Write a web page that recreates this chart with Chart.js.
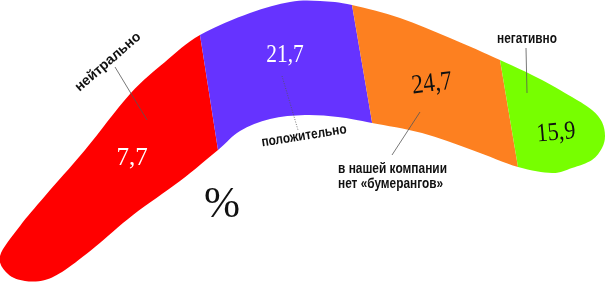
<!DOCTYPE html>
<html>
<head>
<meta charset="utf-8">
<script src="https://cdn.jsdelivr.net/npm/chart.js@4.4.1/dist/chart.umd.min.js"></script>
<style>
  html, body { margin: 0; padding: 0; background: #fff; }
  #wrap { width: 610px; height: 283px; }
</style>
</head>
<body>
<div id="wrap"><canvas id="chart" width="610" height="283"></canvas></div>
<script>
// данные
var categories = ["нейтрально", "положительно", "в нашей компании\nнет «бумерангов»", "негативно"];
var values = [7.7, 21.7, 24.7, 15.9];
var colors = ["#ff0000", "#6633ff", "#fd8020", "#77ff00"];
var valueColors = ["#ffffff", "#ffffff", "#111111", "#111111"];
var unitLabel = "%";

// раскладка (в единицах осей 0..610 / 0..283)
var outline = [
  [0, 256], [20, 226], [45, 196], [85, 150], [130, 94], [165, 62], [200, 35],
  [250, 13], [290, 2], [320, 1], [352, 5], [400, 18], [450, 38], [500, 60],
  [538, 78], [572, 97], [592, 110], [602, 122], [605, 136], [602, 148],
  [592, 160], [572, 168], [552, 173], [518, 167], [472, 150], [422, 133],
  [372, 123], [338, 117], [305, 115], [270, 119], [240, 131], [218, 150],
  [180, 181], [133, 215], [95, 247], [65, 270], [45, 280], [25, 281], [8, 274]
];
var boundaries = [
  [[200, 35], [218, 150]],
  [[352, 5], [372, 122]],
  [[500, 60], [518, 167]]
];
var valuePos = [[132, 158], [285, 55], [432, 84], [556, 133]];
var valueRot = [0, 0, -7, -5];
var valueSize = [25, 25, 27, 26];
var labelPos = [[108, 62], [304, 136], [338, 173], [527, 39]];
var labelRot = [-41, -9, 0, 0];
var labelWidth = [86, 86, 109, 60];
var leaders = [
  [[115, 67], [147, 120], false],
  [[282, 76], [298, 130], true],
  [[420, 112], [392, 155], false],
  [[526, 48], [527, 93], false]
];

function lineX(b, y) {
  var t = (y - b[0][1]) / (b[1][1] - b[0][1]);
  return b[0][0] + t * (b[1][0] - b[0][0]);
}

var boomerang = {
  id: "boomerang",
  beforeDatasetsDraw: function (chart) {
    var ctx = chart.ctx;
    var sx = chart.scales.x, sy = chart.scales.y;
    function P(p) { return [sx.getPixelForValue(p[0]), sy.getPixelForValue(p[1])]; }
    var pts = outline.map(P);
    var n = pts.length;

    ctx.save();
    ctx.beginPath();
    ctx.moveTo(pts[0][0], pts[0][1]);
    for (var i = 0; i < n; i++) {
      var p0 = pts[(i - 1 + n) % n], p1 = pts[i], p2 = pts[(i + 1) % n], p3 = pts[(i + 2) % n];
      ctx.bezierCurveTo(
        p1[0] + (p2[0] - p0[0]) / 6, p1[1] + (p2[1] - p0[1]) / 6,
        p2[0] - (p3[0] - p1[0]) / 6, p2[1] - (p3[1] - p1[1]) / 6,
        p2[0], p2[1]);
    }
    ctx.closePath();
    ctx.clip();

    var top = -30, bot = 320;
    for (var s = 0; s < values.length; s++) {
      var left = s === 0 ? [[-20, top], [-20, bot]] :
        [[lineX(boundaries[s - 1], top), top], [lineX(boundaries[s - 1], bot), bot]];
      var right = s === values.length - 1 ? [[640, top], [640, bot]] :
        [[lineX(boundaries[s], top), top], [lineX(boundaries[s], bot), bot]];
      var poly = [left[0], right[0], right[1], left[1]].map(P);
      ctx.beginPath();
      ctx.moveTo(poly[0][0], poly[0][1]);
      for (var k = 1; k < 4; k++) ctx.lineTo(poly[k][0], poly[k][1]);
      ctx.closePath();
      ctx.fillStyle = colors[s];
      ctx.fill();
    }
    ctx.restore();
  },
  afterDatasetsDraw: function (chart) {
    var ctx = chart.ctx;
    var sx = chart.scales.x, sy = chart.scales.y;
    function P(p) { return [sx.getPixelForValue(p[0]), sy.getPixelForValue(p[1])]; }
    var meta = chart.getDatasetMeta(0);

    // выноски
    ctx.save();
    ctx.strokeStyle = "#555";
    ctx.lineWidth = 0.8;
    leaders.forEach(function (l) {
      var a = P(l[0]), b = P(l[1]);
      ctx.setLineDash(l[2] ? [1, 1.5] : []);
      ctx.beginPath();
      ctx.moveTo(a[0], a[1]);
      ctx.lineTo(b[0], b[1]);
      ctx.stroke();
    });
    ctx.restore();

    // значения
    meta.data.forEach(function (el, i) {
      ctx.save();
      ctx.translate(el.x, el.y);
      ctx.rotate(valueRot[i] * Math.PI / 180);
      ctx.font = valueSize[i] + "px 'Liberation Serif', serif";
      ctx.fillStyle = valueColors[i];
      ctx.textAlign = "center";
      ctx.textBaseline = "middle";
      ctx.fillText(String(values[i]).replace(".", ","), 0, 0, valueSize[i] * 1.5);
      ctx.restore();
    });

    // подписи категорий
    categories.forEach(function (c, i) {
      var p = P(labelPos[i]);
      var lines = c.split("\n");
      ctx.save();
      ctx.translate(p[0], p[1]);
      ctx.rotate(labelRot[i] * Math.PI / 180);
      ctx.font = "bold 14px 'Liberation Sans', Arial, sans-serif";
      ctx.fillStyle = "#111";
      if (lines.length > 1) {
        ctx.textAlign = "left";
        ctx.textBaseline = "alphabetic";
        ctx.fillText(lines[0], 0, 0, labelWidth[i]);
        ctx.fillText(lines[1], 0, 15, labelWidth[i] - 4);
      } else {
        ctx.textAlign = "center";
        ctx.textBaseline = "middle";
        ctx.fillText(lines[0], 0, 0, labelWidth[i]);
      }
      ctx.restore();
    });

    // знак процента
    var u = P([222, 205]);
    ctx.save();
    ctx.font = "44px 'Liberation Serif', serif";
    ctx.fillStyle = "#111";
    ctx.textAlign = "center";
    ctx.textBaseline = "middle";
    ctx.fillText(unitLabel, u[0], u[1], 36);
    ctx.restore();
  }
};

new Chart(document.getElementById("chart"), {
  type: "scatter",
  data: {
    labels: categories,
    datasets: [{
      data: values.map(function (v, i) { return { x: valuePos[i][0], y: valuePos[i][1], v: v }; }),
      pointRadius: 0,
      pointHoverRadius: 0
    }]
  },
  options: {
    responsive: false,
    animation: false,
    devicePixelRatio: 1,
    layout: { padding: 0 },
    plugins: { legend: { display: false }, tooltip: { enabled: false } },
    scales: {
      x: { type: "linear", min: 0, max: 610, display: false },
      y: { type: "linear", min: 0, max: 283, reverse: true, display: false }
    }
  },
  plugins: [boomerang]
});
</script>
</body>
</html>
